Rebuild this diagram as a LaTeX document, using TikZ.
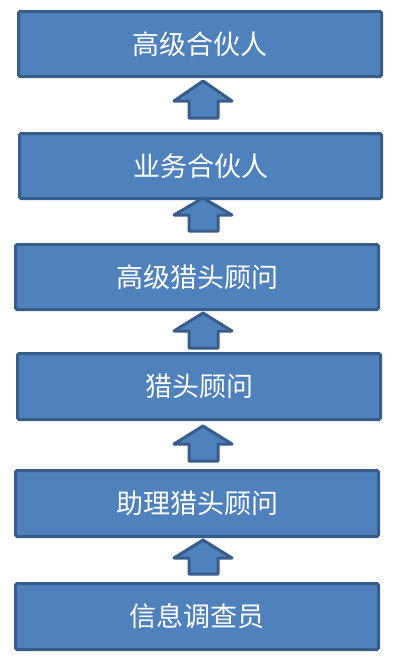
\documentclass[tikz,border=0pt]{standalone}
\usepackage{fontspec}
\newfontfamily\cjk{Noto Sans CJK SC}
\definecolor{boxfill}{HTML}{4F81BD}
\definecolor{boxline}{HTML}{385D8A}
\begin{document}
\begin{tikzpicture}[x=1pt,y=-1pt,
  rolebox/.style={draw=boxline,fill=boxfill,line width=3pt,rounded corners=1.5pt,
    text=white,font=\cjk\fontsize{27}{31}\selectfont,inner sep=0pt},
  uparrow/.style={draw=boxline,fill=boxfill,line width=3pt,line join=round}]
\useasboundingbox (0,0) rectangle (404,662);
\newcommand\rolebox[6]{%
  \node[rolebox,minimum width={#4-#2},minimum height={#5-#3}] (#1) at ({(#2+#4)/2},{(#3+#5)/2}) {#6};}
\rolebox{b1}{18.5}{11.5}{381.5}{76.5}{高级合伙人}
\rolebox{b2}{19.5}{133.5}{381.5}{198.5}{业务合伙人}
\rolebox{b3}{15.5}{244.5}{378.5}{309.5}{高级猎头顾问}
\rolebox{b4}{17.5}{353.5}{380.5}{419.5}{猎头顾问}
\rolebox{b5}{15.5}{470.5}{378.5}{536.5}{助理猎头顾问}
\rolebox{b6}{15.5}{583.5}{378.5}{649.5}{信息调查员}
\newcommand\blockarrow[3]{%
  \draw[uparrow] (203,#1) -- (232,#2) -- (218,#2) -- (218,#3) -- (189,#3) -- (189,#2) -- (174,#2) -- cycle;}
\blockarrow{81}{101}{118}
\blockarrow{198}{215}{231}
\blockarrow{313}{331}{348}
\blockarrow{426}{444}{461}
\blockarrow{540}{558}{574}
\end{tikzpicture}
\end{document}
